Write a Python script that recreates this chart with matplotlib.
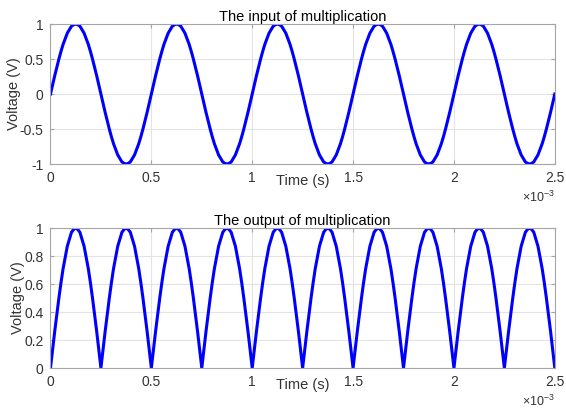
"""
Input and output of a signal multiplier (MATLAB-style two panel plot).
"""

import numpy as np
import matplotlib
matplotlib.use("Agg")
import matplotlib.pyplot as plt

QUARTER = [0.0, 0.13, 0.26, 0.38, 0.5, 0.61, 0.71, 0.79, 0.87, 0.92, 0.97, 0.99]
INPUT_CYCLE = (QUARTER + [1.0] + QUARTER[:0:-1]
               + [-q for q in QUARTER] + [-1.0] + [-q for q in QUARTER[:0:-1]])
# one half period of the output (rectified) signal
OUTPUT_HALF = QUARTER + [1.0] + QUARTER[:0:-1]
PERIOD = 0.5e-3      # s
N_CYCLES = 5

XTICKS = [0, 0.5e-3, 1e-3, 1.5e-3, 2e-3, 2.5e-3]
XTICK_LABELS = ["0", "0.5", "1", "1.5", "2", "2.5"]
YTICKS_IN = [-1, -0.5, 0, 0.5, 1]
YTICK_LABELS_IN = ["-1", "-0.5", "0", "0.5", "1"]
YTICKS_OUT = [0, 0.2, 0.4, 0.6, 0.8, 1]
YTICK_LABELS_OUT = ["0", "0.2", "0.4", "0.6", "0.8", "1"]

TITLES = ["The input of multiplication", "The output of multiplication"]

plt.rcParams["font.family"] = ["Liberation Sans", "DejaVu Sans"]
plt.rcParams["mathtext.fontset"] = "custom"
plt.rcParams["mathtext.rm"] = "Liberation Sans"

v_in = np.array(INPUT_CYCLE * N_CYCLES + [0.0])
t_in = np.arange(len(v_in)) * PERIOD / len(INPUT_CYCLE)
v_out = np.array(OUTPUT_HALF * (2 * N_CYCLES) + [0.0])
t_out = np.arange(len(v_out)) * (PERIOD / 2) / len(OUTPUT_HALF)

fig = plt.figure(figsize=(5.66, 4.08), dpi=100)
ax1 = fig.add_axes([0.0892, 0.598, 0.891, 0.343])
ax2 = fig.add_axes([0.0892, 0.098, 0.891, 0.343])

panels = [
    (ax1, t_in, v_in, (-1, 1), YTICKS_IN, YTICK_LABELS_IN, TITLES[0]),
    (ax2, t_out, v_out, (0, 1), YTICKS_OUT, YTICK_LABELS_OUT, TITLES[1]),
]

for ax, t, v, ylim, yticks, ylabels, title in panels:
    ax.plot(t, v, color="#0000ff", linewidth=2.2, solid_joinstyle="round")
    ax.set_xlim(0, 2.5e-3)
    ax.set_ylim(*ylim)
    ax.set_xticks(XTICKS)
    ax.set_xticklabels(XTICK_LABELS)
    ax.set_yticks(yticks)
    ax.set_yticklabels(ylabels)
    ax.grid(True, color="#e3e3e3", linewidth=0.8)
    ax.set_axisbelow(True)
    for s in ax.spines.values():
        s.set_color("#a6a6a6")
        s.set_linewidth(0.8)
    ax.tick_params(direction="in", length=3, width=0.8, color="#a6a6a6",
                   labelcolor="#333333", labelsize=10, top=True, right=True, pad=5)
    ax.set_title(title, fontsize=10.5, color="black", pad=2)
    ax.set_xlabel("Time (s)", fontsize=10.5, color="#333333", labelpad=-7.8)
    ax.set_ylabel("Voltage (V)", fontsize=10.5, color="#333333", labelpad=-0.6)
    ax.text(1.0, -0.24, r"$\times10^{-3}$", transform=ax.transAxes,
            ha="right", va="center", fontsize=9, color="#333333")

fig.savefig("out.png", dpi=100)
plt.close()
